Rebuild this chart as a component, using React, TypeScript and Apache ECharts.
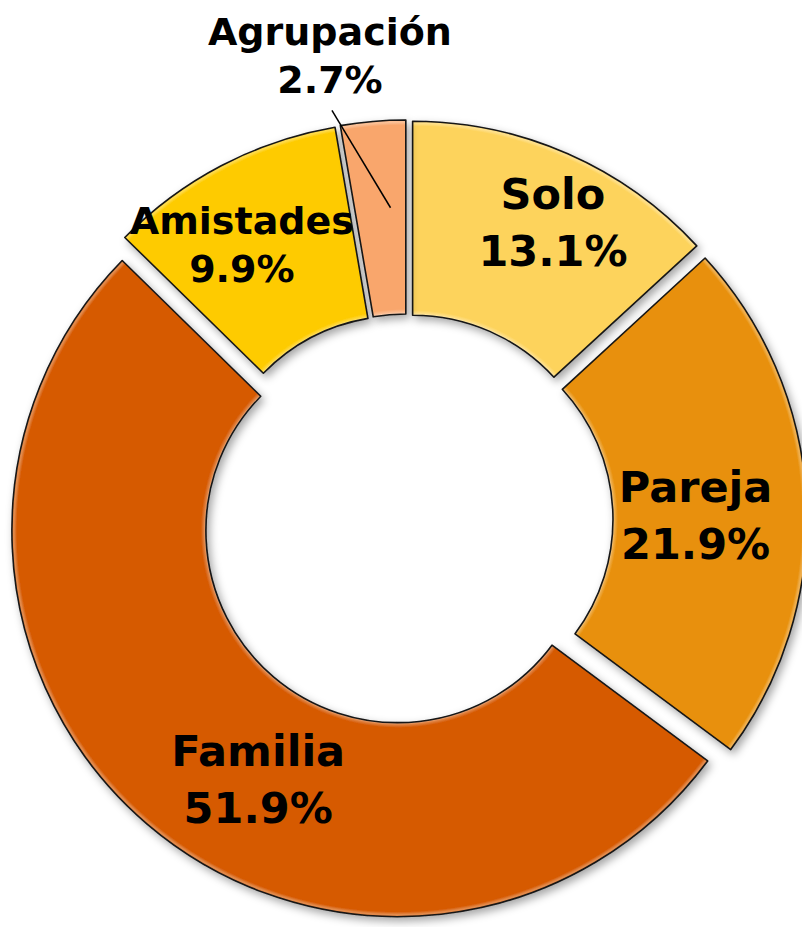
import React, { useEffect, useRef } from "react";
import * as echarts from "echarts";

// ---- Data ----
const categories = ["Solo", "Pareja", "Familia", "Amistades", "Agrupación"];
const percentages = [13.1, 21.9, 51.9, 9.9, 2.7];

// ---- Styles (kept apart from the data) ----
const sliceColors = ["#FDD35B", "#E8900B", "#D65A04", "#FECB02", "#F9A66C"];
const bigFont = { fontSize: 43, lineHeight: 57 };
const smallFont = { fontSize: 38, lineHeight: 48 };
// visual shift of each label from its default anchor: [dx, dy]
const labelShift: number[][] = [
  [23, -17],
  [-17, 11],
  [50, 27],
  [-23, -4],
  [-38, -65],
];
const EXPLODE = 14;
const FONT = "DejaVu Sans";

function shiftPadding(dx: number, dy: number) {
  // [top, right, bottom, left]
  return [
    dy > 0 ? 2 * dy : 0,
    dx < 0 ? -2 * dx : 0,
    dy < 0 ? -2 * dy : 0,
    dx > 0 ? 2 * dx : 0,
  ];
}

function lighten(hex: string, t: number) {
  const n = parseInt(hex.slice(1), 16);
  const r = (n >> 16) & 255, g = (n >> 8) & 255, b = n & 255;
  const m = (c: number) => Math.round(c + (255 - c) * t);
  return `rgb(${m(r)},${m(g)},${m(b)})`;
}

export default function App() {
  const ref = useRef<HTMLDivElement>(null);

  useEffect(() => {
    if (!ref.current) return;
    const chart = echarts.init(ref.current, undefined, { renderer: "svg" });
    const smallIdx = categories.indexOf("Agrupación");

    const makeData = (colors: any[]) =>
      categories.map((name, i) => {
        const isSmall = i >= 3;
        const f = isSmall ? smallFont : bigFont;
        const item: any = {
          name,
          value: percentages[i],
          selected: true,
          itemStyle: { color: colors[i] },
          label: {
            padding: shiftPadding(labelShift[i][0], labelShift[i][1]),
            rich: {
              t: {
                fontSize: f.fontSize,
                lineHeight: f.lineHeight,
                fontWeight: "bold",
                fontFamily: FONT,
                color: "#000000",
                align: "center",
              },
            },
          },
        };
        if (i === smallIdx) {
          item.label.position = "outside";
          item.labelLine = { show: false, length: 0, length2: 0 };
        }
        return item;
      });

    chart.setOption({
      animation: false,
      backgroundColor: "#ffffff",
      series: [
        {
          type: "pie",
          center: [407, 520],
          radius: [192, 386],
          startAngle: 90,
          clockwise: true,
          selectedMode: "multiple",
          selectedOffset: EXPLODE,
          avoidLabelOverlap: false,
          silent: true,
          itemStyle: {
            borderColor: "#151515",
            borderWidth: 1.6,
            shadowBlur: 8,
            shadowColor: "rgba(0,0,0,0.35)",
            shadowOffsetX: 3,
            shadowOffsetY: 4,
          },
          select: {
            itemStyle: { borderColor: "#151515", borderWidth: 1.6 },
          },
          emphasis: { disabled: true },
          label: {
            show: true,
            position: "inside",
            formatter: "{t|{b}}\n{t|{c}%}",
            color: "#000000",
            fontFamily: FONT,
            fontWeight: "bold",
            align: "center",
          },
          labelLine: { show: false },
          labelLayout: (params: any) =>
            params.dataIndex === smallIdx ? { align: "center" } : {},
          data: makeData(sliceColors),
        },
      ],
    });

    try {
      const seriesData = (chart as any).getModel().getSeriesByIndex(0).getData();

      // Bevel-like rims: radial gradients in each sector's own (pre-offset) coordinates
      const gradColors = categories.map((_, i) => {
        const lay = seriesData.getItemLayout(i);
        const base = sliceColors[i];
        const k0 = lay.r0 / lay.r;
        const rim = 5 / lay.r;
        return new echarts.graphic.RadialGradient(
          lay.cx,
          lay.cy,
          lay.r,
          [
            { offset: 0, color: base },
            { offset: k0, color: lighten(base, 0.55) },
            { offset: k0 + rim * 0.4, color: lighten(base, 0.25) },
            { offset: k0 + rim, color: base },
            { offset: 1 - rim, color: base },
            { offset: 1 - rim * 0.4, color: lighten(base, 0.3) },
            { offset: 1, color: lighten(base, 0.2) },
          ],
          true
        );
      });
      chart.setOption({ series: [{ data: makeData(gradColors) }] });

      // Leader line for the small "Agrupación" slice, derived from the pie's own layout
      const lay = seriesData.getItemLayout(smallIdx);
      const mid = (lay.startAngle + lay.endAngle) / 2;
      const cx = lay.cx + Math.cos(mid) * EXPLODE;
      const cy = lay.cy + Math.sin(mid) * EXPLODE;
      const ax = cx + lay.r * Math.cos(mid) - 5 + labelShift[smallIdx][0];
      const ay = cy + lay.r * Math.sin(mid) + labelShift[smallIdx][1];
      const a2 = lay.startAngle + 0.7 * (lay.endAngle - lay.startAngle);
      const rIn = lay.r0 + 0.55 * (lay.r - lay.r0);
      const ex = cx + rIn * Math.cos(a2);
      const ey = cy + rIn * Math.sin(a2);
      chart.setOption({
        graphic: [
          {
            type: "line",
            z: 100,
            silent: true,
            shape: { x1: ax + 2, y1: ay + smallFont.lineHeight + 6, x2: ex, y2: ey },
            style: { stroke: "#000", lineWidth: 1.5 },
          },
        ],
      });
    } catch (e) {
      // ignore
    }

    return () => chart.dispose();
  }, []);

  return (
    <div
      ref={ref}
      style={{ position: "absolute", left: 0, top: 0, width: 802, height: 927, background: "#fff" }}
    />
  );
}
